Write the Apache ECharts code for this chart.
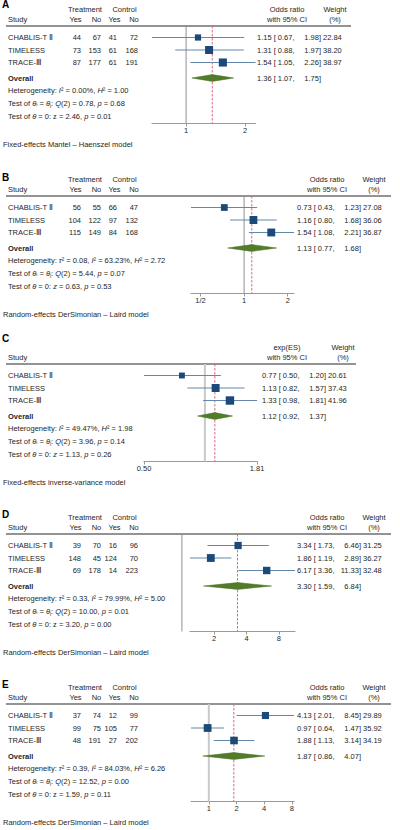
<!DOCTYPE html>
<html>
<head>
<meta charset="utf-8">
<script src="https://cdn.jsdelivr.net/npm/echarts@6/dist/echarts.min.js"></script>
<style>
  html, body { margin: 0; padding: 0; background: #fff; }
  #chart { width: 400px; height: 830px; }
</style>
</head>
<body>
<div id="chart"></div>
<script>
const studies = ['CHABLIS-T Ⅱ', 'TIMELESS', 'TRACE-Ⅲ']

// A
const aTreatYes = [44, 73, 87]
const aTreatNo = [67, 153, 177]
const aCtrlYes = [41, 61, 61]
const aCtrlNo = [72, 168, 191]
const aOr = [1.15, 1.31, 1.54]
const aLo = [0.67, 0.88, 1.05]
const aHi = [1.98, 1.97, 2.26]
const aWeight = [22.84, 38.20, 38.97]
const aOverall = [1.36, 1.07, 1.75]
const aHet = [null, 0.00, 1.00] // tau2, I2, H2
const aTests = [0.78, 0.68, 2.46, 0.01] // Q(2), p, z, p
const aTicks = [1, 2]
const aTickLabels = ['1', '2']

// B
const bTreatYes = [56, 104, 115]
const bTreatNo = [55, 122, 149]
const bCtrlYes = [66, 97, 84]
const bCtrlNo = [47, 132, 168]
const bOr = [0.73, 1.16, 1.54]
const bLo = [0.43, 0.80, 1.08]
const bHi = [1.23, 1.68, 2.21]
const bWeight = [27.08, 36.06, 36.87]
const bOverall = [1.13, 0.77, 1.68]
const bHet = [0.08, 63.23, 2.72]
const bTests = [5.44, 0.07, 0.63, 0.53]
const bTicks = [0.5, 1, 2]
const bTickLabels = ['1/2', '1', '2']

// C
const cOr = [0.77, 1.13, 1.33]
const cLo = [0.50, 0.82, 0.98]
const cHi = [1.20, 1.57, 1.81]
const cWeight = [20.61, 37.43, 41.96]
const cOverall = [1.12, 0.92, 1.37]
const cHet = [null, 49.47, 1.98]
const cTests = [3.96, 0.14, 1.13, 0.26]
const cTicks = [0.5, 1.81]
const cTickLabels = ['0.50', '1.81']

// D
const dTreatYes = [39, 148, 69]
const dTreatNo = [70, 45, 178]
const dCtrlYes = [16, 124, 14]
const dCtrlNo = [96, 70, 223]
const dOr = [3.34, 1.86, 6.17]
const dLo = [1.73, 1.19, 3.36]
const dHi = [6.46, 2.89, 11.33]
const dWeight = [31.25, 36.27, 32.48]
const dOverall = [3.30, 1.59, 6.84]
const dHet = [0.33, 79.99, 5.00]
const dTests = [10.00, 0.01, 3.20, 0.00]
const dTicks = [2, 4, 8]
const dTickLabels = ['2', '4', '8']

// E
const eTreatYes = [37, 99, 48]
const eTreatNo = [74, 75, 191]
const eCtrlYes = [12, 105, 27]
const eCtrlNo = [99, 77, 202]
const eOr = [4.13, 0.97, 1.88]
const eLo = [2.01, 0.64, 1.13]
const eHi = [8.45, 1.47, 3.14]
const eWeight = [29.89, 35.92, 34.19]
const eOverall = [1.87, 0.86, 4.07]
const eHet = [0.39, 84.03, 6.26]
const eTests = [12.52, 0.00, 1.59, 0.11]
const eTicks = [1, 2, 4, 8]
const eTickLabels = ['1', '2', '4', '8']

const FONT = '"Liberation Sans", Arial, sans-serif'
const TXT = '#262626'
const FS = 7.5
const MARK = '#1b4a7a'
const CI_LINE = '#6289ac'
const DIAMOND = '#527c2a'
const REF_DASH = '#d06c86'

// row layout inside each grid (y axis is inverted)
const YMIN = 0.08, YMAX = 7.88
const ROW_POS = [1, 2, 3]
const OVERALL_POS = 4.24
const COUNT_X = [81, 101, 117, 138]

const panels = [
  {letter: 'A', top: 26, letterY: 4.5, left: 152, width: 103.5, min: 0.67, max: 2.26, orX: 257, wX: 323,
    effLabel: 'Odds ratio', effC: 287, wC: 335, nullW: 1, nullC: '#8f8f8f', lineEnd: 351,
    counts: [aTreatYes, aTreatNo, aCtrlYes, aCtrlNo], or: aOr, lo: aLo, hi: aHi, w: aWeight, overall: aOverall,
    het: aHet, tests: aTests, zItalic: false, ticks: aTicks, tickLabels: aTickLabels,
    model: 'Fixed-effects Mantel – Haenszel model'},
  {letter: 'B', top: 196, letterY: 177, left: 191, width: 103, min: 0.43, max: 2.21, orX: 297, wX: 363,
    effLabel: 'Odds ratio', effC: 327, wC: 374, nullW: 1, nullC: '#8f8f8f', lineEnd: 391,
    counts: [bTreatYes, bTreatNo, bCtrlYes, bCtrlNo], or: bOr, lo: bLo, hi: bHi, w: bWeight, overall: bOverall,
    het: bHet, tests: bTests, zItalic: true, ticks: bTicks, tickLabels: bTickLabels,
    model: 'Random-effects DerSimonian – Laird model'},
  {letter: 'C', top: 364, letterY: 338, left: 144, width: 113, min: 0.5, max: 1.81, orX: 262, wX: 328,
    effLabel: 'exp(ES)', effC: 287, wC: 343, nullW: 2, nullC: '#c9c9c9', lineEnd: 356,
    counts: null, or: cOr, lo: cLo, hi: cHi, w: cWeight, overall: cOverall,
    het: cHet, tests: cTests, zItalic: true, ticks: cTicks, tickLabels: cTickLabels,
    model: 'Fixed-effects inverse-variance model'},
  {letter: 'D', top: 534, letterY: 514, left: 190, width: 105, min: 1.19, max: 11.33, orX: 297, wX: 363,
    effLabel: 'Odds ratio', effC: 327, wC: 374, nullW: 1, nullC: '#8f8f8f', lineEnd: 391,
    counts: [dTreatYes, dTreatNo, dCtrlYes, dCtrlNo], or: dOr, lo: dLo, hi: dHi, w: dWeight, overall: dOverall,
    het: dHet, tests: dTests, zItalic: false, ticks: dTicks, tickLabels: dTickLabels,
    model: 'Random-effects DerSimonian – Laird model'},
  {letter: 'E', top: 704, letterY: 684, left: 191, width: 103, min: 0.64, max: 8.45, orX: 297, wX: 363,
    effLabel: 'Odds ratio', effC: 327, wC: 374, nullW: 2, nullC: '#c9c9c9', lineEnd: 391,
    counts: [eTreatYes, eTreatNo, eCtrlYes, eCtrlNo], or: eOr, lo: eLo, hi: eHi, w: eWeight, overall: eOverall,
    het: eHet, tests: eTests, zItalic: false, ticks: eTicks, tickLabels: eTickLabels,
    model: 'Random-effects DerSimonian – Laird model'}
]

const fmt = v => v.toFixed(2)
const RICH = {
  i: {fontStyle: 'italic', fontSize: FS, fontFamily: FONT, fill: TXT}
}

function text(x, y, str, align, extra) {
  return {
    type: 'text', x: x, y: y, silent: true,
    style: Object.assign({
      text: str, fill: TXT, fontSize: FS, fontFamily: FONT,
      align: align || 'left', verticalAlign: 'middle', rich: RICH
    }, extra || {})
  }
}

// "1.15 [ 0.67,  1.98]" laid out in three aligned pieces
function ciText(x0, y, est, lo, hi) {
  return [
    text(x0, y, fmt(est) + ' ['),
    text(x0 + 37.5, y, fmt(lo) + ',', 'right'),
    text(x0 + 64, y, fmt(hi) + ']', 'right')
  ]
}

const option = {
  animation: false,
  grid: [], xAxis: [], yAxis: [], series: [], graphic: []
}

panels.forEach((p, k) => {
  option.grid.push({left: p.left, width: p.width, top: p.top, height: 97.5, show: false})
  option.xAxis.push({
    type: 'log', logBase: 10, gridIndex: k, min: p.min, max: p.max, position: 'bottom',
    axisLine: {show: true, onZero: false, lineStyle: {color: '#9a9a9a', width: 1.2}},
    axisTick: {show: true, length: 3, customValues: p.ticks, lineStyle: {color: '#9a9a9a'}},
    axisLabel: {
      customValues: p.ticks, fontSize: FS, fontFamily: FONT, color: TXT, margin: 3,
      formatter: v => {
        const i = p.ticks.findIndex(t => Math.abs(t - v) < 1e-6)
        return i >= 0 ? p.tickLabels[i] : ''
      }
    },
    splitLine: {show: false}, minorTick: {show: false}
  })
  option.yAxis.push({type: 'value', gridIndex: k, min: YMIN, max: YMAX, inverse: true, show: false})

  // null line at 1 and dashed line at overall estimate
  option.series.push({
    type: 'custom', xAxisIndex: k, yAxisIndex: k, clip: false, silent: true, z: 1,
    data: [[1, 0], [p.overall[0], 1]],
    renderItem: (params, api) => {
      const a = api.coord([api.value(0), YMIN])
      const b = api.coord([api.value(0), YMAX])
      const dashed = api.value(1) === 1
      return {
        type: 'line', shape: {x1: a[0], y1: a[1], x2: b[0], y2: b[1]},
        style: dashed
          ? {stroke: REF_DASH, lineWidth: 1, lineDash: [2.5, 1.5]}
          : {stroke: p.nullC, lineWidth: p.nullW}
      }
    }
  })

  // studies
  option.series.push({
    type: 'custom', xAxisIndex: k, yAxisIndex: k, clip: false, silent: true, z: 3,
    data: studies.map((s, i) => [p.or[i], p.lo[i], p.hi[i], p.w[i], ROW_POS[i], i]),
    renderItem: (params, api) => {
      const i = api.value(5)
      const pos = api.value(4)
      const c = api.coord([api.value(0), pos])
      const l = api.coord([api.value(1), pos])
      const h = api.coord([api.value(2), pos])
      const s = 1.3 * Math.sqrt(api.value(3))
      const children = [
        {type: 'line', shape: {x1: l[0], y1: l[1], x2: h[0], y2: h[1]}, style: {stroke: CI_LINE, lineWidth: 1}},
        {type: 'rect', shape: {x: c[0] - s / 2, y: c[1] - s / 2, width: s, height: s}, style: {fill: MARK}},
        text(8, c[1], studies[i])
      ]
      if (p.counts) {
        p.counts.forEach((col, j) => children.push(text(COUNT_X[j], c[1], String(col[i]), 'right')))
      }
      ciText(p.orX, c[1], api.value(0), api.value(1), api.value(2)).forEach(t => children.push(t))
      children.push(text(p.wX, c[1], fmt(api.value(3))))
      return {type: 'group', children: children}
    }
  })

  // overall diamond
  option.series.push({
    type: 'custom', xAxisIndex: k, yAxisIndex: k, clip: false, silent: true, z: 3,
    data: [[p.overall[0], p.overall[1], p.overall[2], OVERALL_POS]],
    renderItem: (params, api) => {
      const pos = api.value(3)
      const c = api.coord([api.value(0), pos])
      const l = api.coord([api.value(1), pos])
      const h = api.coord([api.value(2), pos])
      const hh = 3.4
      const children = [
        {type: 'polygon', shape: {points: [[l[0], l[1]], [c[0], c[1] - hh], [h[0], h[1]], [c[0], c[1] + hh]]},
          style: {fill: DIAMOND, stroke: '#46701f', lineWidth: 0.5}},
        text(8, c[1], 'Overall', 'left', {fontWeight: 'bold'})
      ]
      ciText(p.orX, c[1], api.value(0), api.value(1), api.value(2)).forEach(t => children.push(t))
      return {type: 'group', children: children}
    }
  })

  // headers, statistics, footer
  const L = p.top
  const g = option.graphic
  g.push(text(2, p.letterY, p.letter, 'left', {fontWeight: 'bold', fontSize: 10, fill: '#000'}))
  if (p.counts) {
    g.push(text(85, L - 17, 'Treatment', 'center'))
    g.push(text(124.5, L - 17, 'Control', 'center'))
    g.push(text(75.5, L - 7, 'Yes', 'center'))
    g.push(text(96.5, L - 7, 'No', 'center'))
    g.push(text(114.5, L - 7, 'Yes', 'center'))
    g.push(text(134, L - 7, 'No', 'center'))
  }
  g.push(text(8, L - 7, 'Study'))
  g.push(text(p.effC, L - 17, p.effLabel, 'center'))
  g.push(text(p.effC, L - 7, 'with 95% CI', 'center'))
  g.push(text(p.wC, L - 17, 'Weight', 'center'))
  g.push(text(p.wC, L - 7, '(%)', 'center'))
  g.push({type: 'line', silent: true, shape: {x1: 6, y1: L, x2: p.lineEnd, y2: L},
    style: {stroke: '#6f6f6f', lineWidth: 1.3}})

  let het = 'Heterogeneity: '
  if (p.het[0] !== null) het += '{i|τ}² = ' + fmt(p.het[0]) + ', '
  het += '{i|I}² = ' + fmt(p.het[1]) + '%, {i|H}² = ' + fmt(p.het[2])
  g.push(text(8, L + 64, het))
  g.push(text(8, L + 77, 'Test of {i|θ}ᵢ = {i|θ}ⱼ: {i|Q}(2) = ' + fmt(p.tests[0]) + ', {i|p} = ' + fmt(p.tests[1])))
  const z = p.zItalic ? '{i|z}' : 'z'
  g.push(text(8, L + 90, 'Test of {i|θ} = 0: ' + z + ' = ' + fmt(p.tests[2]) + ', {i|p} = ' + fmt(p.tests[3])))
  g.push(text(3, L + 118, p.model))
})

const chart = echarts.init(document.getElementById('chart'), null, {renderer: 'svg'})
chart.setOption(option)
</script>
</body>
</html>
